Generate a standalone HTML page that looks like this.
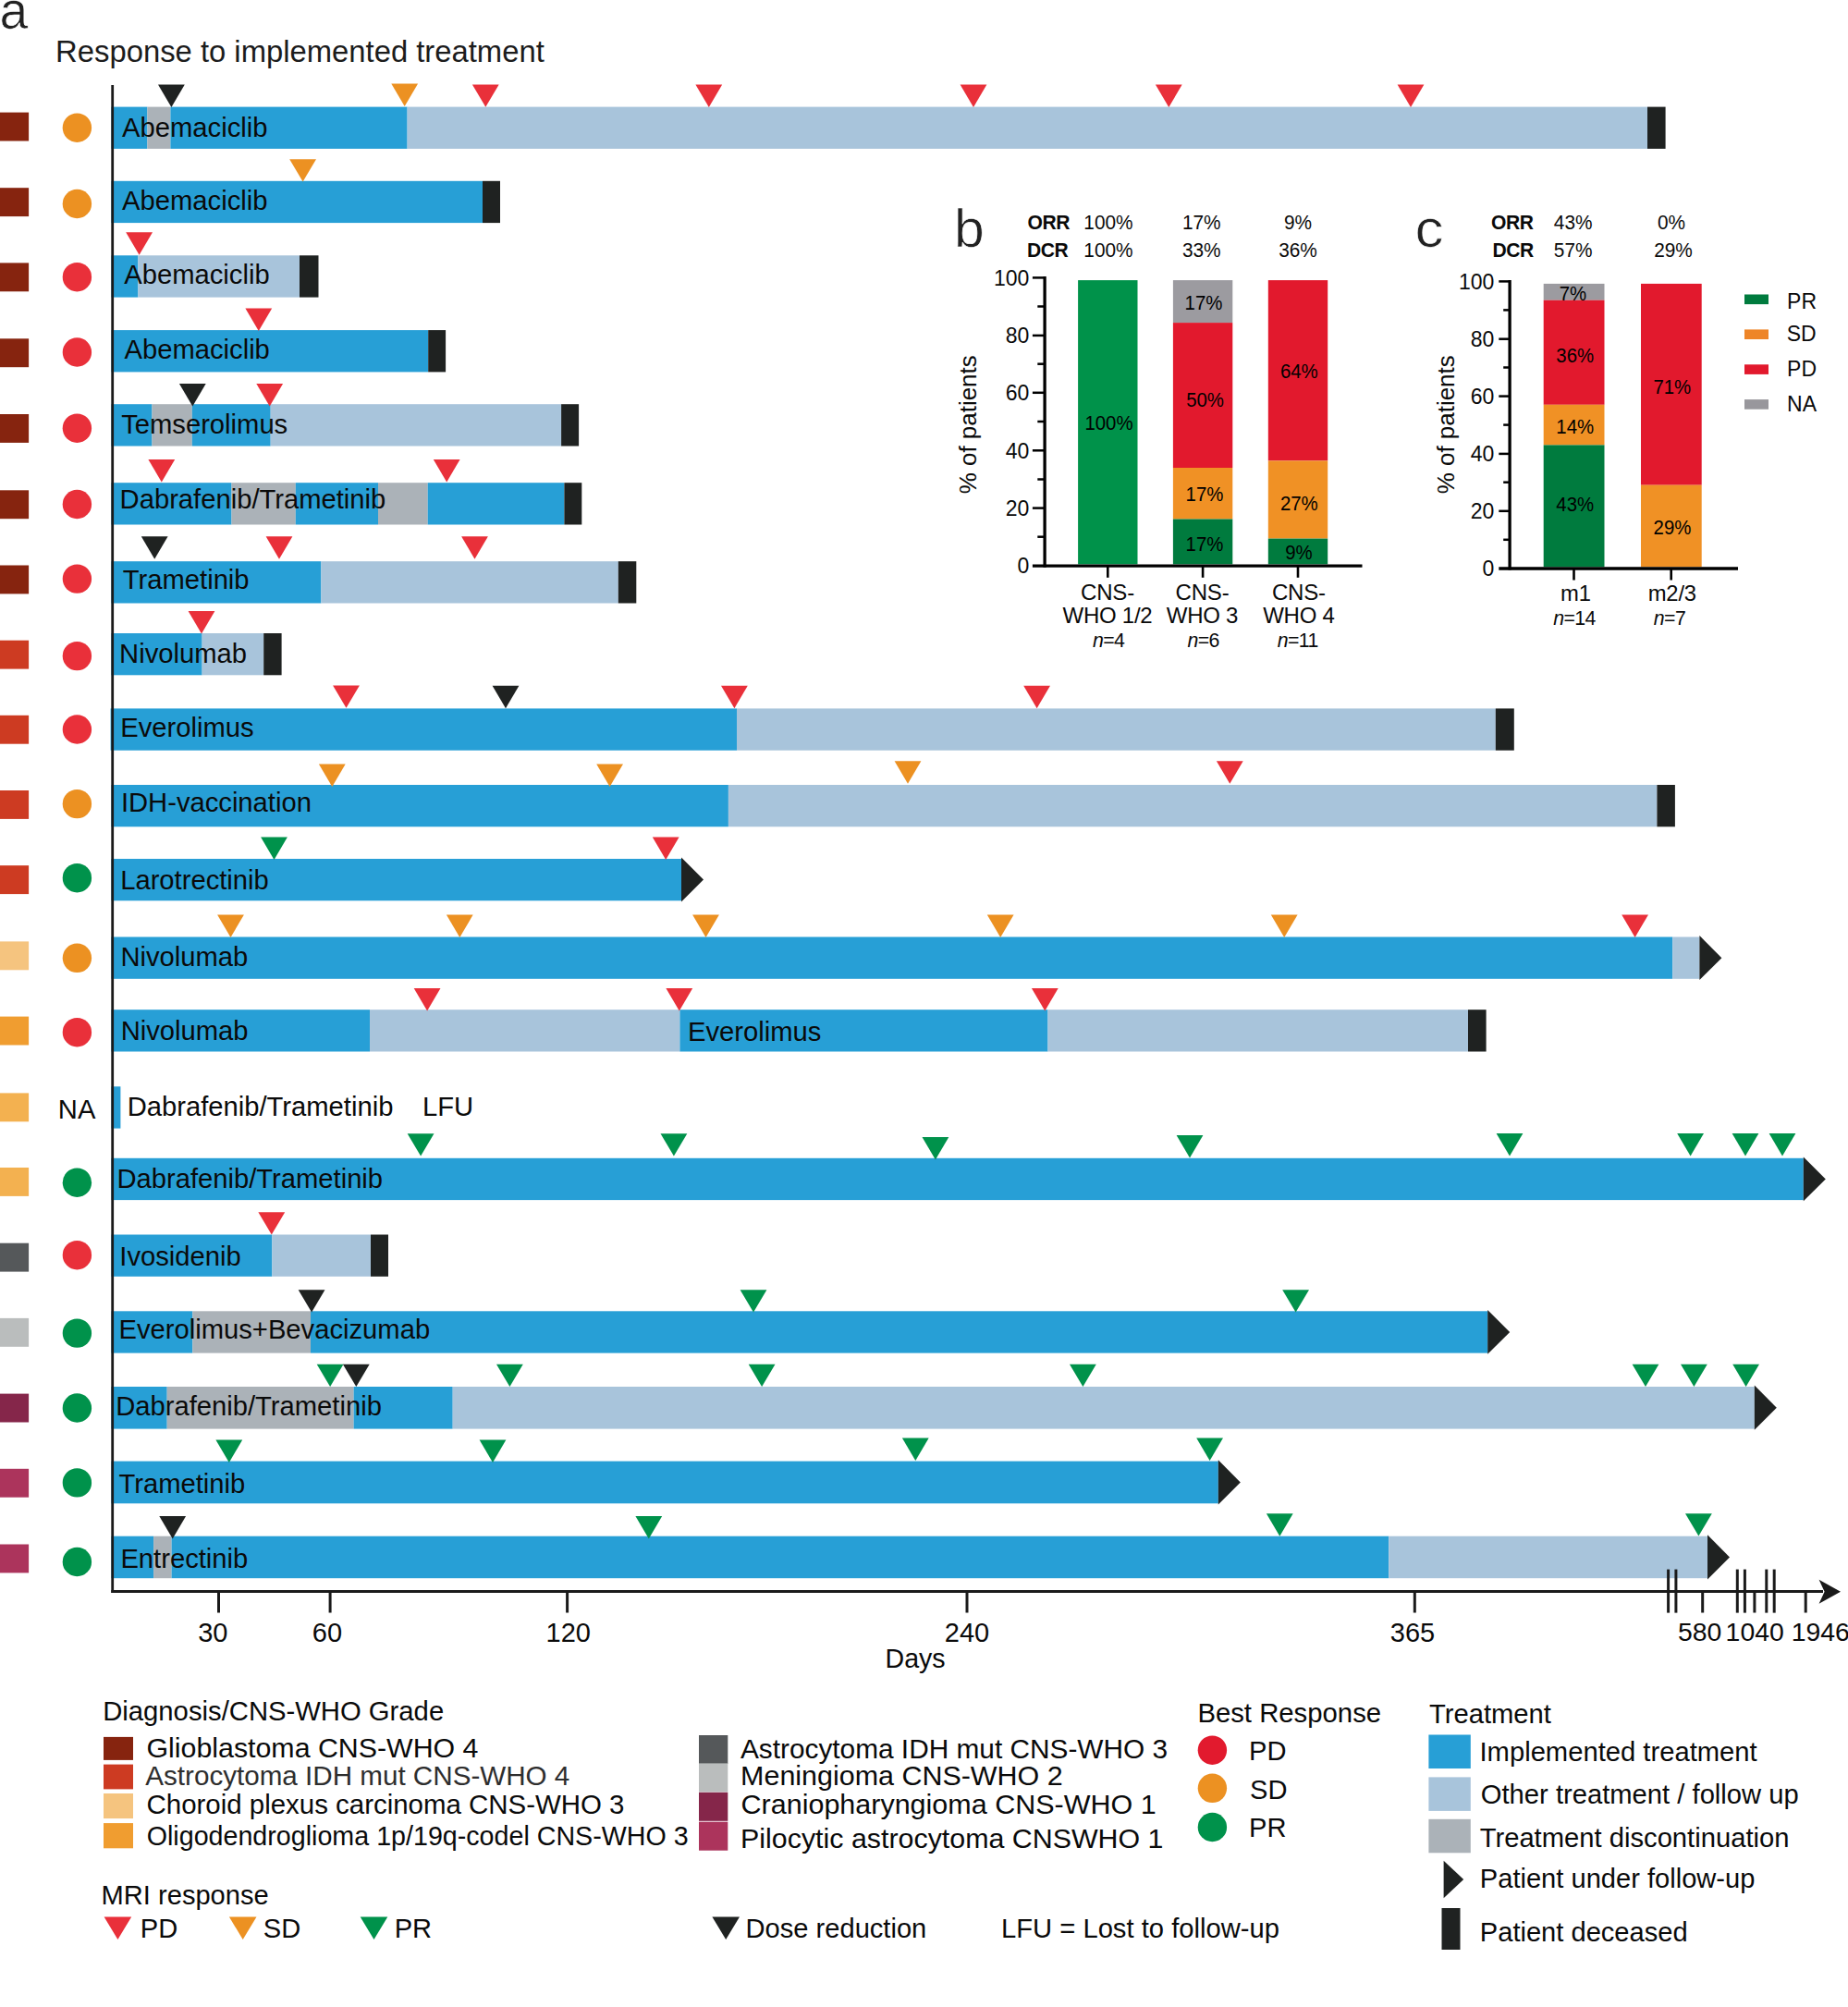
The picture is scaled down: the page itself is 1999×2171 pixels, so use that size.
<!DOCTYPE html>
<html lang="en"><head><meta charset="utf-8"><title>Response to implemented treatment</title>
<style>
html,body{margin:0;padding:0;background:#fff}
svg{display:block;fill:#0a0a0a;font-family:"Liberation Sans",Arial,Helvetica,sans-serif}
</style></head><body>
<svg width="1999" height="2171" viewBox="0 0 1999 2171">
<g id="swim">
<rect x="0.0" y="121.6" width="31.1" height="30.9" fill="#86240f"/>
<circle cx="83.4" cy="138.2" r="15.7" fill="#ec9122"/>
<rect x="120.4" y="115.6" width="39.0" height="45.3" fill="#279fd6"/>
<rect x="159.4" y="115.6" width="25.0" height="45.3" fill="#abb2b8"/>
<rect x="184.4" y="115.6" width="256.2" height="45.3" fill="#279fd6"/>
<rect x="440.6" y="115.6" width="1341.4" height="45.3" fill="#a8c4db"/>
<rect x="1782.0" y="115.6" width="19.6" height="45.3" fill="#1f2221"/>
<path d="M171.0 91.6h28.8L185.4 116.0z" fill="#1f2221"/>
<path d="M423.3 90.6h28.8L437.7 115.0z" fill="#ec9122"/>
<path d="M510.9 91.4h28.8L525.3 115.8z" fill="#e9303a"/>
<path d="M752.4 91.6h28.8L766.8 116.0z" fill="#e9303a"/>
<path d="M1038.6 91.6h28.8L1053.0 116.0z" fill="#e9303a"/>
<path d="M1249.9 91.6h28.8L1264.3 116.0z" fill="#e9303a"/>
<path d="M1511.6 91.6h28.8L1526.0 116.0z" fill="#e9303a"/>
<rect x="0.0" y="203.2" width="31.1" height="30.9" fill="#86240f"/>
<circle cx="83.4" cy="220.5" r="15.7" fill="#ec9122"/>
<rect x="120.4" y="195.8" width="401.6" height="45.3" fill="#279fd6"/>
<rect x="522.0" y="195.8" width="19.0" height="45.3" fill="#1f2221"/>
<path d="M313.2 172.2h28.8L327.6 196.6z" fill="#ec9122"/>
<rect x="0.0" y="284.4" width="31.1" height="30.9" fill="#86240f"/>
<circle cx="83.4" cy="299.7" r="15.7" fill="#e9303a"/>
<rect x="120.4" y="276.3" width="29.0" height="45.3" fill="#279fd6"/>
<rect x="149.4" y="276.3" width="174.6" height="45.3" fill="#a8c4db"/>
<rect x="324.0" y="276.3" width="20.5" height="45.3" fill="#1f2221"/>
<path d="M136.2 251.3h28.8L150.6 275.7z" fill="#e9303a"/>
<rect x="0.0" y="366.3" width="31.1" height="30.9" fill="#86240f"/>
<circle cx="83.4" cy="381.0" r="15.7" fill="#e9303a"/>
<rect x="120.4" y="357.1" width="342.8" height="45.3" fill="#279fd6"/>
<rect x="463.2" y="357.1" width="18.9" height="45.3" fill="#1f2221"/>
<path d="M265.4 333.5h28.8L279.8 357.9z" fill="#e9303a"/>
<rect x="0.0" y="448.0" width="31.1" height="30.9" fill="#86240f"/>
<circle cx="83.4" cy="463.2" r="15.7" fill="#e9303a"/>
<rect x="120.4" y="437.2" width="44.1" height="45.3" fill="#279fd6"/>
<rect x="164.5" y="437.2" width="43.3" height="45.3" fill="#abb2b8"/>
<rect x="207.8" y="437.2" width="84.9" height="45.3" fill="#279fd6"/>
<rect x="292.7" y="437.2" width="314.4" height="45.3" fill="#a8c4db"/>
<rect x="607.1" y="437.2" width="19.0" height="45.3" fill="#1f2221"/>
<path d="M193.9 415.0h28.8L208.3 439.4z" fill="#1f2221"/>
<path d="M277.3 415.0h28.8L291.7 439.4z" fill="#e9303a"/>
<rect x="0.0" y="530.3" width="31.1" height="30.9" fill="#86240f"/>
<circle cx="83.4" cy="545.5" r="15.7" fill="#e9303a"/>
<rect x="120.4" y="522.2" width="130.1" height="45.3" fill="#279fd6"/>
<rect x="250.5" y="522.2" width="69.3" height="45.3" fill="#abb2b8"/>
<rect x="319.8" y="522.2" width="89.2" height="45.3" fill="#279fd6"/>
<rect x="409.0" y="522.2" width="53.7" height="45.3" fill="#abb2b8"/>
<rect x="462.7" y="522.2" width="147.7" height="45.3" fill="#279fd6"/>
<rect x="610.4" y="522.2" width="18.9" height="45.3" fill="#1f2221"/>
<path d="M160.4 497.0h28.8L174.8 521.4z" fill="#e9303a"/>
<path d="M468.8 497.0h28.8L483.2 521.4z" fill="#e9303a"/>
<rect x="0.0" y="611.5" width="31.1" height="30.9" fill="#86240f"/>
<circle cx="83.4" cy="626.1" r="15.7" fill="#e9303a"/>
<rect x="120.4" y="607.2" width="227.0" height="45.3" fill="#279fd6"/>
<rect x="347.4" y="607.2" width="321.4" height="45.3" fill="#a8c4db"/>
<rect x="668.8" y="607.2" width="19.5" height="45.3" fill="#1f2221"/>
<path d="M152.8 580.3h28.8L167.2 604.7z" fill="#1f2221"/>
<path d="M287.6 580.3h28.8L302.0 604.7z" fill="#e9303a"/>
<path d="M499.1 580.3h28.8L513.5 604.7z" fill="#e9303a"/>
<rect x="0.0" y="692.7" width="31.1" height="30.9" fill="#cd3b22"/>
<circle cx="83.4" cy="709.6" r="15.7" fill="#e9303a"/>
<rect x="120.4" y="685.0" width="98.2" height="45.3" fill="#279fd6"/>
<rect x="218.6" y="685.0" width="66.6" height="45.3" fill="#a8c4db"/>
<rect x="285.2" y="685.0" width="19.4" height="45.3" fill="#1f2221"/>
<path d="M203.6 661.0h28.8L218.0 685.4z" fill="#e9303a"/>
<rect x="0.0" y="773.8" width="31.1" height="30.9" fill="#cd3b22"/>
<circle cx="83.4" cy="789.0" r="15.7" fill="#e9303a"/>
<rect x="119.6" y="766.4" width="677.4" height="45.3" fill="#279fd6"/>
<rect x="797.0" y="766.4" width="820.8" height="45.3" fill="#a8c4db"/>
<rect x="1617.8" y="766.4" width="20.0" height="45.3" fill="#1f2221"/>
<path d="M360.1 741.4h28.8L374.5 765.8z" fill="#e9303a"/>
<path d="M532.6 741.8h28.8L547.0 766.2z" fill="#1f2221"/>
<path d="M780.0 741.8h28.8L794.4 766.2z" fill="#e9303a"/>
<path d="M1107.2 741.8h28.8L1121.6 766.2z" fill="#e9303a"/>
<rect x="0.0" y="855.0" width="31.1" height="30.9" fill="#cd3b22"/>
<circle cx="83.4" cy="869.6" r="15.7" fill="#ec9122"/>
<rect x="120.4" y="849.0" width="667.5" height="45.3" fill="#279fd6"/>
<rect x="787.9" y="849.0" width="1004.5" height="45.3" fill="#a8c4db"/>
<rect x="1792.4" y="849.0" width="19.5" height="45.3" fill="#1f2221"/>
<path d="M344.9 826.5h28.8L359.3 850.9z" fill="#ec9122"/>
<path d="M645.2 826.5h28.8L659.6 850.9z" fill="#ec9122"/>
<path d="M967.6 823.3h28.8L982.0 847.7z" fill="#ec9122"/>
<path d="M1315.9 823.3h28.8L1330.3 847.7z" fill="#e9303a"/>
<rect x="0.0" y="936.2" width="31.1" height="30.9" fill="#cd3b22"/>
<circle cx="83.4" cy="949.7" r="15.7" fill="#00924b"/>
<rect x="120.4" y="929.0" width="616.6" height="45.3" fill="#279fd6"/>
<path d="M737.0 927.6L761.0 951.6L737.0 975.5z" fill="#1f2221"/>
<path d="M282.1 905.5h28.8L296.5 929.9z" fill="#00924b"/>
<path d="M705.8 905.5h28.8L720.2 929.9z" fill="#e9303a"/>
<rect x="0.0" y="1018.4" width="31.1" height="30.9" fill="#f5c47f"/>
<circle cx="83.4" cy="1036.3" r="15.7" fill="#ec9122"/>
<rect x="120.4" y="1013.5" width="1688.8" height="45.3" fill="#279fd6"/>
<rect x="1809.2" y="1013.5" width="29.2" height="45.3" fill="#a8c4db"/>
<path d="M1838.4 1012.1L1862.4 1036.2L1838.4 1060.0z" fill="#1f2221"/>
<path d="M235.1 989.5h28.8L249.5 1013.9z" fill="#ec9122"/>
<path d="M482.9 989.5h28.8L497.3 1013.9z" fill="#ec9122"/>
<path d="M749.1 989.5h28.8L763.5 1013.9z" fill="#ec9122"/>
<path d="M1067.8 989.5h28.8L1082.2 1013.9z" fill="#ec9122"/>
<path d="M1374.8 989.5h28.8L1389.2 1013.9z" fill="#ec9122"/>
<path d="M1754.2 989.5h28.8L1768.6 1013.9z" fill="#e9303a"/>
<rect x="0.0" y="1099.6" width="31.1" height="30.9" fill="#f09d30"/>
<circle cx="83.4" cy="1116.7" r="15.7" fill="#e9303a"/>
<rect x="120.4" y="1092.2" width="279.6" height="45.3" fill="#279fd6"/>
<rect x="400.0" y="1092.2" width="335.4" height="45.3" fill="#a8c4db"/>
<rect x="735.4" y="1092.2" width="398.1" height="45.3" fill="#279fd6"/>
<rect x="1133.5" y="1092.2" width="454.5" height="45.3" fill="#a8c4db"/>
<rect x="1588.0" y="1092.2" width="19.6" height="45.3" fill="#1f2221"/>
<path d="M447.7 1069.0h28.8L462.1 1093.4z" fill="#e9303a"/>
<path d="M720.4 1069.0h28.8L734.8 1093.4z" fill="#e9303a"/>
<path d="M1115.9 1069.0h28.8L1130.3 1093.4z" fill="#e9303a"/>
<rect x="0.0" y="1182.4" width="31.1" height="30.9" fill="#f3b150"/>
<rect x="120.4" y="1175.3" width="10.0" height="45.3" fill="#279fd6"/>
<rect x="0.0" y="1263.0" width="31.1" height="30.9" fill="#f3b150"/>
<circle cx="83.4" cy="1279.2" r="15.7" fill="#00924b"/>
<rect x="120.4" y="1252.8" width="1830.4" height="45.3" fill="#279fd6"/>
<path d="M1950.8 1251.4L1974.8 1275.5L1950.8 1299.3z" fill="#1f2221"/>
<path d="M440.7 1226.2h28.8L455.1 1250.6z" fill="#00924b"/>
<path d="M714.5 1226.2h28.8L728.9 1250.6z" fill="#00924b"/>
<path d="M997.5 1230.0h28.8L1011.9 1254.4z" fill="#00924b"/>
<path d="M1272.6 1228.0h28.8L1287.0 1252.4z" fill="#00924b"/>
<path d="M1618.6 1226.0h28.8L1633.0 1250.4z" fill="#00924b"/>
<path d="M1814.2 1226.0h28.8L1828.6 1250.4z" fill="#00924b"/>
<path d="M1873.6 1226.0h28.8L1888.0 1250.4z" fill="#00924b"/>
<path d="M1913.6 1226.0h28.8L1928.0 1250.4z" fill="#00924b"/>
<rect x="0.0" y="1344.7" width="31.1" height="30.9" fill="#55585a"/>
<circle cx="83.4" cy="1357.7" r="15.7" fill="#e9303a"/>
<rect x="120.4" y="1335.5" width="174.0" height="45.3" fill="#279fd6"/>
<rect x="294.4" y="1335.5" width="106.6" height="45.3" fill="#a8c4db"/>
<rect x="401.0" y="1335.5" width="19.0" height="45.3" fill="#1f2221"/>
<path d="M279.4 1311.2h28.8L293.8 1335.6z" fill="#e9303a"/>
<rect x="0.0" y="1425.9" width="31.1" height="30.9" fill="#babdbd"/>
<circle cx="83.4" cy="1442.1" r="15.7" fill="#00924b"/>
<rect x="120.4" y="1418.3" width="87.9" height="45.3" fill="#279fd6"/>
<rect x="208.3" y="1418.3" width="127.7" height="45.3" fill="#abb2b8"/>
<rect x="336.0" y="1418.3" width="1273.2" height="45.3" fill="#279fd6"/>
<path d="M1609.2 1416.9L1633.2 1441.0L1609.2 1464.8z" fill="#1f2221"/>
<path d="M322.7 1395.2h28.8L337.1 1419.6z" fill="#1f2221"/>
<path d="M800.6 1395.2h28.8L815.0 1419.6z" fill="#00924b"/>
<path d="M1387.2 1395.2h28.8L1401.6 1419.6z" fill="#00924b"/>
<rect x="0.0" y="1507.6" width="31.1" height="30.9" fill="#85264a"/>
<circle cx="83.4" cy="1523.0" r="15.7" fill="#00924b"/>
<rect x="120.4" y="1500.0" width="60.3" height="45.6" fill="#279fd6"/>
<rect x="180.7" y="1500.0" width="201.9" height="45.6" fill="#abb2b8"/>
<rect x="382.6" y="1500.0" width="107.1" height="45.6" fill="#279fd6"/>
<rect x="489.7" y="1500.0" width="1408.1" height="45.6" fill="#a8c4db"/>
<path d="M1897.8 1498.6L1921.8 1522.8L1897.8 1546.8z" fill="#1f2221"/>
<path d="M342.7 1475.7h28.8L357.1 1500.1z" fill="#00924b"/>
<path d="M370.9 1475.7h28.8L385.3 1500.1z" fill="#1f2221"/>
<path d="M537.0 1475.7h28.8L551.4 1500.1z" fill="#00924b"/>
<path d="M809.7 1475.7h28.8L824.1 1500.1z" fill="#00924b"/>
<path d="M1157.0 1475.7h28.8L1171.4 1500.1z" fill="#00924b"/>
<path d="M1765.6 1475.7h28.8L1780.0 1500.1z" fill="#00924b"/>
<path d="M1818.0 1475.7h28.8L1832.4 1500.1z" fill="#00924b"/>
<path d="M1874.2 1475.7h28.8L1888.6 1500.1z" fill="#00924b"/>
<rect x="0.0" y="1588.8" width="31.1" height="30.9" fill="#ac345c"/>
<circle cx="83.4" cy="1603.9" r="15.7" fill="#00924b"/>
<rect x="120.4" y="1580.6" width="1197.4" height="45.7" fill="#279fd6"/>
<path d="M1317.8 1579.2L1341.8 1603.4L1317.8 1627.5z" fill="#1f2221"/>
<path d="M233.4 1557.6h28.8L247.8 1582.0z" fill="#00924b"/>
<path d="M518.6 1557.6h28.8L533.0 1582.0z" fill="#00924b"/>
<path d="M975.9 1555.5h28.8L990.3 1579.9z" fill="#00924b"/>
<path d="M1294.2 1555.5h28.8L1308.6 1579.9z" fill="#00924b"/>
<rect x="0.0" y="1670.5" width="31.1" height="30.9" fill="#ac345c"/>
<circle cx="83.4" cy="1689.5" r="15.7" fill="#00924b"/>
<rect x="120.4" y="1661.7" width="45.7" height="45.5" fill="#279fd6"/>
<rect x="166.1" y="1661.7" width="19.5" height="45.5" fill="#abb2b8"/>
<rect x="185.6" y="1661.7" width="1316.6" height="45.5" fill="#279fd6"/>
<rect x="1502.2" y="1661.7" width="344.8" height="45.5" fill="#a8c4db"/>
<path d="M1847.0 1660.3L1871.0 1684.5L1847.0 1708.4z" fill="#1f2221"/>
<path d="M172.3 1640.0h28.8L186.7 1664.4z" fill="#1f2221"/>
<path d="M687.4 1640.0h28.8L701.8 1664.4z" fill="#00924b"/>
<path d="M1369.9 1637.3h28.8L1384.3 1661.7z" fill="#00924b"/>
<path d="M1823.0 1637.2h28.8L1837.4 1661.6z" fill="#00924b"/>
<text x="132.1" y="147.7" font-size="29.2">Abemaciclib</text>
<text x="132.1" y="227.3" font-size="29.2">Abemaciclib</text>
<text x="134.3" y="306.5" font-size="29.2">Abemaciclib</text>
<text x="134.5" y="388.0" font-size="29.2">Abemaciclib</text>
<text x="131.2" y="468.6" font-size="29.2">Temserolimus</text>
<text x="129.6" y="550.3" font-size="29.2">Dabrafenib/Trametinib</text>
<text x="132.8" y="637.0" font-size="29.2">Trametinib</text>
<text x="129.1" y="716.5" font-size="29.2">Nivolumab</text>
<text x="130.2" y="796.6" font-size="29.2">Everolimus</text>
<text x="130.9" y="877.7" font-size="29.2">IDH-vaccination</text>
<text x="130.2" y="961.6" font-size="29.2">Larotrectinib</text>
<text x="130.4" y="1044.9" font-size="29.2">Nivolumab</text>
<text x="130.7" y="1124.5" font-size="29.2">Nivolumab</text>
<text x="744.0" y="1125.7" font-size="29.2">Everolimus</text>
<text x="137.7" y="1207.3" font-size="29.2">Dabrafenib/Trametinib</text>
<text x="457.0" y="1207.3" font-size="29.2">LFU</text>
<text x="126.4" y="1284.7" font-size="29.2">Dabrafenib/Trametinib</text>
<text x="129.3" y="1368.5" font-size="29.2">Ivosidenib</text>
<text x="128.5" y="1448.0" font-size="29.2">Everolimus+Bevacizumab</text>
<text x="125.2" y="1531.2" font-size="29.2">Dabrafenib/Trametinib</text>
<text x="128.5" y="1614.7" font-size="29.2">Trametinib</text>
<text x="130.4" y="1696.0" font-size="29.2">Entrectinib</text>
<text x="62.8" y="1210.4" font-size="29.2">NA</text>
</g>
<g id="axes" stroke="#1a1a1a" fill="none">
<path d="M121.7 92V1723.1" stroke-width="2.8"/>
<path d="M120.3 1721.6H1972" stroke-width="3"/>
<path d="M236.5 1721V1744.5" stroke-width="3"/>
<path d="M357.1 1721V1744.5" stroke-width="3"/>
<path d="M613.6 1721V1744.5" stroke-width="3"/>
<path d="M1046 1721V1744.5" stroke-width="3"/>
<path d="M1530.3 1721V1744.5" stroke-width="3"/>
<path d="M1841.7 1721V1744.5" stroke-width="3"/>
<path d="M1953.2 1721V1744.5" stroke-width="3"/>
<path d="M1897.9 1721V1744.5" stroke-width="3"/>
<path d="M1804.6 1697.6V1744.6" stroke-width="3"/>
<path d="M1812.9 1697.6V1744.6" stroke-width="3"/>
<path d="M1879.3 1697.6V1744.6" stroke-width="3"/>
<path d="M1887.4 1697.6V1744.6" stroke-width="3"/>
<path d="M1910.8 1697.6V1744.6" stroke-width="3"/>
<path d="M1919.2 1697.6V1744.6" stroke-width="3"/>
</g>
<path d="M1991 1721.8L1967.6 1708.8L1973.6 1721.8L1967.6 1734.8z" fill="#1a1a1a"/>
<text x="230.3" y="1775.6" font-size="29" text-anchor="middle">30</text>
<text x="354.0" y="1775.6" font-size="29" text-anchor="middle">60</text>
<text x="614.7" y="1775.6" font-size="29" text-anchor="middle">120</text>
<text x="1046.0" y="1775.6" font-size="29" text-anchor="middle">240</text>
<text x="1528.0" y="1775.6" font-size="29" text-anchor="middle">365</text>
<text x="1838.7" y="1774.5" font-size="28.4" text-anchor="middle">580</text>
<text x="1898.2" y="1774.5" font-size="28.4" text-anchor="middle">1040</text>
<text x="1937.7" y="1774.5" font-size="28.4">1946</text>
<text x="957.5" y="1803.6" font-size="28.6">Days</text>
<text transform="translate(-0.6 31.2) scale(0.97 1)" font-size="57" fill="#222" stroke="#fff" stroke-width="0.7">a</text>
<text x="60.1" y="67.1" font-size="32.8" fill="#1c1c1c">Response to implemented treatment</text>
<text x="111.2" y="1861.2" font-size="29.25">Diagnosis/CNS-WHO Grade</text>
<rect x="112.0" y="1878.9" width="32.0" height="25.0" fill="#86240f"/>
<text x="158.5" y="1901.3" font-size="29.5" textLength="359" lengthAdjust="spacingAndGlyphs">Glioblastoma CNS-WHO 4</text>
<rect x="112.0" y="1908.6" width="32.0" height="26.8" fill="#cd3b22"/>
<text x="157.3" y="1930.9" font-size="29.5" textLength="459" lengthAdjust="spacingAndGlyphs" fill="#2e2e2e">Astrocytoma IDH mut CNS-WHO 4</text>
<rect x="112.0" y="1940.0" width="32.0" height="27.1" fill="#f5c47f"/>
<text x="158.5" y="1961.5" font-size="29.5" textLength="517" lengthAdjust="spacingAndGlyphs">Choroid plexus carcinoma CNS-WHO 3</text>
<rect x="112.0" y="1972.1" width="32.0" height="27.2" fill="#f09d30"/>
<text x="158.7" y="1995.6" font-size="29.5" textLength="586" lengthAdjust="spacingAndGlyphs">Oligodendroglioma 1p/19q-codel CNS-WHO 3</text>
<rect x="756.0" y="1877.0" width="31.3" height="31.0" fill="#55585a"/>
<text x="800.9" y="1901.6" font-size="29.5" textLength="462.2" lengthAdjust="spacingAndGlyphs">Astrocytoma IDH mut CNS-WHO 3</text>
<rect x="756.0" y="1907.4" width="31.3" height="31.0" fill="#babdbd"/>
<text x="801.1" y="1931.3" font-size="29.5" textLength="348.6" lengthAdjust="spacingAndGlyphs">Meningioma CNS-WHO 2</text>
<rect x="756.0" y="1938.8" width="31.3" height="31.0" fill="#85264a"/>
<text x="801.6" y="1962.1" font-size="29.5" textLength="449.0" lengthAdjust="spacingAndGlyphs">Craniopharyngioma CNS-WHO 1</text>
<rect x="756.0" y="1970.7" width="31.3" height="31.0" fill="#ac345c"/>
<text x="801.1" y="1998.6" font-size="29.5" textLength="457.4" lengthAdjust="spacingAndGlyphs">Pilocytic astrocytoma CNSWHO 1</text>
<text x="109.6" y="2060.0" font-size="29.1">MRI response</text>
<path d="M112.6 2073.5h29.6L127.4 2098.0z" fill="#e9303a"/>
<text x="151.8" y="2095.7" font-size="29.1">PD</text>
<path d="M247.9 2073.5h29.6L262.7 2098.0z" fill="#ec9122"/>
<text x="284.8" y="2095.7" font-size="29.1">SD</text>
<path d="M389.7 2073.5h29.6L404.5 2098.0z" fill="#00924b"/>
<text x="426.7" y="2095.7" font-size="29.1">PR</text>
<path d="M770.4 2073.5h29.6L785.2 2098.0z" fill="#1f2221"/>
<text x="806.6" y="2095.7" font-size="29.1">Dose reduction</text>
<text x="1083.0" y="2096.2" font-size="29.2">LFU = Lost to follow-up</text>
<text x="1295.4" y="1863.0" font-size="29.3">Best Response</text>
<circle cx="1311.4" cy="1893.2" r="15.7" fill="#e21a2e"/>
<text x="1351.1" y="1904.0" font-size="29.1">PD</text>
<circle cx="1311.4" cy="1934.3" r="15.7" fill="#ec9122"/>
<text x="1352.1" y="1945.7" font-size="29.1">SD</text>
<circle cx="1311.4" cy="1976.5" r="15.7" fill="#00924b"/>
<text x="1351.1" y="1986.8" font-size="29.1">PR</text>
<text x="1546.0" y="1864.0" font-size="29.2">Treatment</text>
<rect x="1545.4" y="1876.5" width="45.4" height="36.5" fill="#279fd6"/>
<text x="1600.5" y="1905.1" font-size="29.2">Implemented treatment</text>
<rect x="1545.4" y="1922.4" width="45.4" height="36.5" fill="#a8c4db"/>
<text x="1601.8" y="1951.0" font-size="29.2">Other treatment / follow up</text>
<rect x="1545.4" y="1967.8" width="45.4" height="36.5" fill="#abb2b8"/>
<text x="1600.7" y="1998.0" font-size="29.2">Treatment discontinuation</text>
<path d="M1561.6 2012.7L1583.2 2033L1561.6 2053.2z" fill="#1f2221"/>
<text x="1600.8" y="2042.4" font-size="29.1">Patient under follow-up</text>
<rect x="1559.5" y="2064.0" width="20.0" height="45.0" fill="#1f2221"/>
<text x="1600.8" y="2100.3" font-size="29.1">Patient deceased</text>
<g id="chartb">
<rect x="1166.1" y="303.1" width="64.4" height="307.3" fill="#00924a"/>
<rect x="1268.9" y="303.1" width="64.4" height="46.0" fill="#9c9ba0"/>
<rect x="1268.9" y="349.1" width="64.4" height="156.9" fill="#e2192d"/>
<rect x="1268.9" y="506.0" width="64.4" height="55.5" fill="#f09125"/>
<rect x="1268.9" y="561.5" width="64.4" height="48.9" fill="#007b3e"/>
<rect x="1371.8" y="303.1" width="64.4" height="195.3" fill="#e2192d"/>
<rect x="1371.8" y="498.4" width="64.4" height="84.2" fill="#f09125"/>
<rect x="1371.8" y="582.6" width="64.4" height="27.8" fill="#007b3e"/>
<g stroke="#000" fill="none">
<path d="M1130.1 299V613.7" stroke-width="3.3"/>
<path d="M1116.9 612.1H1473.5" stroke-width="3.3"/>
<path d="M1116.9 300.4H1129" stroke-width="2.5"/>
<path d="M1116.9 362.9H1129" stroke-width="2.5"/>
<path d="M1116.9 424.8H1129" stroke-width="2.5"/>
<path d="M1116.9 487.3H1129" stroke-width="2.5"/>
<path d="M1116.9 549.6H1129" stroke-width="2.5"/>
<path d="M1122.3 331.5H1129" stroke-width="2.5"/>
<path d="M1122.3 393.7H1129" stroke-width="2.5"/>
<path d="M1122.3 456H1129" stroke-width="2.5"/>
<path d="M1122.3 518.5H1129" stroke-width="2.5"/>
<path d="M1122.3 580.7H1129" stroke-width="2.5"/>
<path d="M1198.3 613V624.8" stroke-width="2.6"/>
<path d="M1301.1 613V624.8" stroke-width="2.6"/>
<path d="M1404 613V624.8" stroke-width="2.6"/>
</g>
<text x="1113.4" y="308.8" font-size="23" text-anchor="end">100</text>
<text x="1113.4" y="371.0" font-size="23" text-anchor="end">80</text>
<text x="1113.4" y="433.0" font-size="23" text-anchor="end">60</text>
<text x="1113.4" y="495.5" font-size="23" text-anchor="end">40</text>
<text x="1113.4" y="557.7" font-size="23" text-anchor="end">20</text>
<text x="1113.4" y="620.2" font-size="23" text-anchor="end">0</text>
<text transform="translate(1056.4 459.3) rotate(-90)" font-size="26" text-anchor="middle" textLength="150" lengthAdjust="spacingAndGlyphs">% of patients</text>
<text transform="translate(1032 266.8) scale(1.035 1)" font-size="57" fill="#222" stroke="#fff" stroke-width="0.7">b</text>
<text transform="translate(1111.6 247.8) scale(0.95 1)" font-size="22.2" text-anchor="start" font-weight="bold" letter-spacing="-0.5">ORR</text>
<text transform="translate(1111.0 277.9) scale(0.95 1)" font-size="22.2" text-anchor="start" font-weight="bold" letter-spacing="-0.5">DCR</text>
<text transform="translate(1199.0 247.8) scale(0.93 1)" font-size="22.4" text-anchor="middle">100%</text>
<text transform="translate(1199.0 277.9) scale(0.93 1)" font-size="22.4" text-anchor="middle">100%</text>
<text transform="translate(1299.8 247.8) scale(0.93 1)" font-size="22.4" text-anchor="middle">17%</text>
<text transform="translate(1299.8 277.9) scale(0.93 1)" font-size="22.4" text-anchor="middle">33%</text>
<text transform="translate(1404.0 247.8) scale(0.93 1)" font-size="22.4" text-anchor="middle">9%</text>
<text transform="translate(1404.0 277.9) scale(0.93 1)" font-size="22.4" text-anchor="middle">36%</text>
<text transform="translate(1302.0 335.3) scale(0.91 1)" font-size="22.4" text-anchor="middle" fill="#000">17%</text>
<text transform="translate(1303.6 439.7) scale(0.91 1)" font-size="22.4" text-anchor="middle" fill="#000">50%</text>
<text transform="translate(1303.0 541.5) scale(0.91 1)" font-size="22.4" text-anchor="middle" fill="#000">17%</text>
<text transform="translate(1303.0 595.6) scale(0.91 1)" font-size="22.4" text-anchor="middle" fill="#000">17%</text>
<text transform="translate(1199.5 464.6) scale(0.91 1)" font-size="22.4" text-anchor="middle" fill="#000">100%</text>
<text transform="translate(1405.3 408.9) scale(0.91 1)" font-size="22.4" text-anchor="middle" fill="#000">64%</text>
<text transform="translate(1405.3 552.0) scale(0.91 1)" font-size="22.4" text-anchor="middle" fill="#000">27%</text>
<text transform="translate(1405.0 604.5) scale(0.91 1)" font-size="22.4" text-anchor="middle" fill="#000">9%</text>
<text x="1198.0" y="649.2" font-size="24" text-anchor="middle" letter-spacing="-0.2">CNS-</text>
<text x="1198.0" y="673.7" font-size="24" text-anchor="middle" letter-spacing="-0.25">WHO 1/2</text>
<text x="1199.2" y="700.4" font-size="21.3" text-anchor="middle" letter-spacing="-0.6"><tspan font-style="italic">n</tspan>=4</text>
<text x="1300.5" y="649.2" font-size="24" text-anchor="middle" letter-spacing="-0.2">CNS-</text>
<text x="1300.5" y="673.7" font-size="24" text-anchor="middle" letter-spacing="-0.25">WHO 3</text>
<text x="1301.7" y="700.4" font-size="21.3" text-anchor="middle" letter-spacing="-0.6"><tspan font-style="italic">n</tspan>=6</text>
<text x="1404.9" y="649.2" font-size="24" text-anchor="middle" letter-spacing="-0.2">CNS-</text>
<text x="1404.9" y="673.7" font-size="24" text-anchor="middle" letter-spacing="-0.25">WHO 4</text>
<text x="1403.7" y="700.4" font-size="21.3" text-anchor="middle" letter-spacing="-0.6"><tspan font-style="italic">n</tspan>=11</text>
</g>
<g id="chartc">
<rect x="1669.7" y="306.9" width="65.8" height="17.8" fill="#9c9ba0"/>
<rect x="1669.7" y="324.7" width="65.8" height="113.1" fill="#e2192d"/>
<rect x="1669.7" y="437.8" width="65.8" height="43.6" fill="#f09125"/>
<rect x="1669.7" y="481.4" width="65.8" height="131.8" fill="#007b3e"/>
<rect x="1775.0" y="306.9" width="65.7" height="217.8" fill="#e2192d"/>
<rect x="1775.0" y="524.7" width="65.7" height="88.5" fill="#f09125"/>
<g stroke="#000" fill="none">
<path d="M1633.1 303V616.6" stroke-width="3.3"/>
<path d="M1621.3 615H1880" stroke-width="3.3"/>
<path d="M1621.3 304.4H1632" stroke-width="2.5"/>
<path d="M1621.3 366.7H1632" stroke-width="2.5"/>
<path d="M1621.3 428.6H1632" stroke-width="2.5"/>
<path d="M1621.3 490.9H1632" stroke-width="2.5"/>
<path d="M1621.3 552.8H1632" stroke-width="2.5"/>
<path d="M1626.2 335.4H1632" stroke-width="2.5"/>
<path d="M1626.2 397.5H1632" stroke-width="2.5"/>
<path d="M1626.2 459.6H1632" stroke-width="2.5"/>
<path d="M1626.2 521.7H1632" stroke-width="2.5"/>
<path d="M1626.2 583.8H1632" stroke-width="2.5"/>
<path d="M1702.5 616V627.5" stroke-width="2.6"/>
<path d="M1807.7 616V627.5" stroke-width="2.6"/>
</g>
<text x="1616.4" y="312.6" font-size="23" text-anchor="end">100</text>
<text x="1616.4" y="374.8" font-size="23" text-anchor="end">80</text>
<text x="1616.4" y="436.8" font-size="23" text-anchor="end">60</text>
<text x="1616.4" y="499.0" font-size="23" text-anchor="end">40</text>
<text x="1616.4" y="561.0" font-size="23" text-anchor="end">20</text>
<text x="1616.4" y="622.9" font-size="23" text-anchor="end">0</text>
<text transform="translate(1573 459.3) rotate(-90)" font-size="26" text-anchor="middle" textLength="150" lengthAdjust="spacingAndGlyphs">% of patients</text>
<text transform="translate(1530.4 267) scale(1.09 1)" font-size="57" fill="#222" stroke="#fff" stroke-width="0.7">c</text>
<text transform="translate(1613.0 247.8) scale(0.95 1)" font-size="22.2" text-anchor="start" font-weight="bold" letter-spacing="-0.5">ORR</text>
<text transform="translate(1614.6 277.9) scale(0.95 1)" font-size="22.2" text-anchor="start" font-weight="bold" letter-spacing="-0.5">DCR</text>
<text transform="translate(1701.7 247.8) scale(0.93 1)" font-size="22.4" text-anchor="middle">43%</text>
<text transform="translate(1701.7 277.9) scale(0.93 1)" font-size="22.4" text-anchor="middle">57%</text>
<text transform="translate(1808.0 247.8) scale(0.93 1)" font-size="22.4" text-anchor="middle">0%</text>
<text transform="translate(1810.0 277.9) scale(0.93 1)" font-size="22.4" text-anchor="middle">29%</text>
<text transform="translate(1701.5 325.0) scale(0.91 1)" font-size="22.4" text-anchor="middle" fill="#000">7%</text>
<text transform="translate(1703.7 391.6) scale(0.91 1)" font-size="22.4" text-anchor="middle" fill="#000">36%</text>
<text transform="translate(1703.7 468.7) scale(0.91 1)" font-size="22.4" text-anchor="middle" fill="#000">14%</text>
<text transform="translate(1703.7 552.8) scale(0.91 1)" font-size="22.4" text-anchor="middle" fill="#000">43%</text>
<text transform="translate(1808.8 426.2) scale(0.91 1)" font-size="22.4" text-anchor="middle" fill="#000">71%</text>
<text transform="translate(1809.0 578.0) scale(0.91 1)" font-size="22.4" text-anchor="middle" fill="#000">29%</text>
<text x="1704.5" y="649.7" font-size="23.8" text-anchor="middle">m1</text>
<text x="1808.8" y="649.7" font-size="23.8" text-anchor="middle" letter-spacing="-0.2">m2/3</text>
<text x="1703" y="675.8" font-size="21.3" text-anchor="middle" letter-spacing="-0.6"><tspan font-style="italic">n</tspan>=14</text>
<text x="1806" y="675.8" font-size="21.3" text-anchor="middle" letter-spacing="-0.6"><tspan font-style="italic">n</tspan>=7</text>
<rect x="1887.0" y="318.5" width="26.0" height="10.6" fill="#007b3e"/>
<text x="1933.1" y="333.8" font-size="23">PR</text>
<rect x="1887.0" y="356.4" width="26.0" height="10.6" fill="#ee8528"/>
<text x="1932.7" y="369.0" font-size="23">SD</text>
<rect x="1887.0" y="394.3" width="26.0" height="10.6" fill="#e2192d"/>
<text x="1933.1" y="406.9" font-size="23">PD</text>
<rect x="1887.0" y="432.1" width="26.0" height="10.6" fill="#98979c"/>
<text x="1933.1" y="445.0" font-size="23">NA</text>
</g>
</svg>
</body></html>
